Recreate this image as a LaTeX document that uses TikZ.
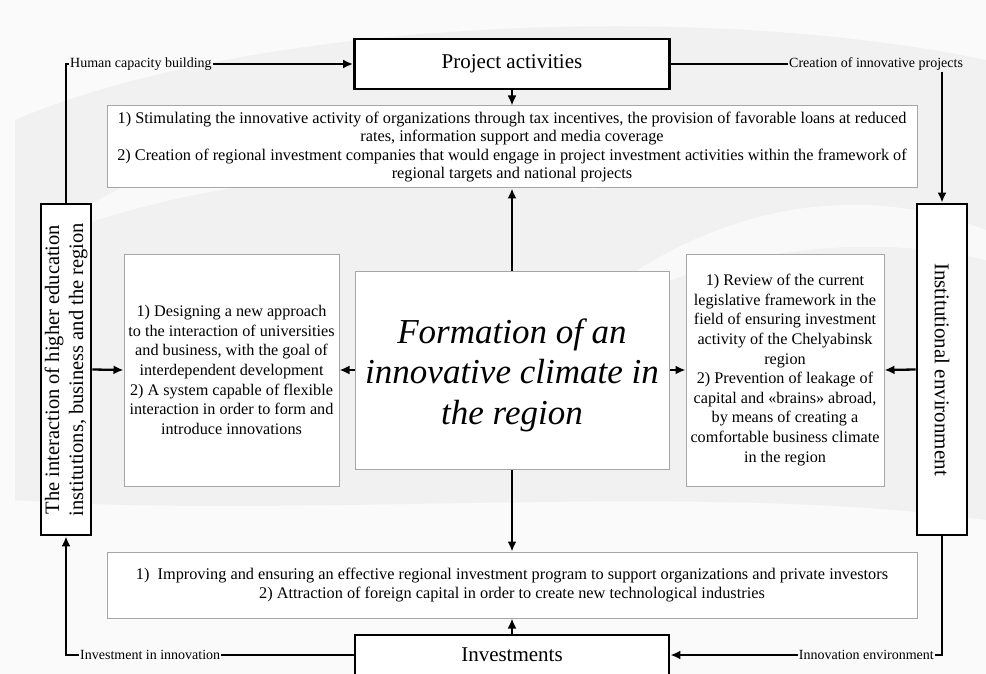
\documentclass[tikz,border=0pt]{standalone}
\usepackage{fontspec}
\setmainfont{Liberation Serif}
\usepackage{tikz}
\usetikzlibrary{arrows.meta}

\tikzset{
    bigbox/.style={draw, line width=2.8pt, fill=white, inner sep=1pt, align=center},
    textbox/.style={draw=gray!70, line width=1pt, fill=white, inner sep=2pt, align=center},
    link/.style={line width=2.3pt, -{Latex[length=10pt,width=9pt]}},
    plainlink/.style={line width=2.3pt},
    tag/.style={inner sep=1pt, font=\fontsize{14}{16}\selectfont},
}

\begin{document}
\begin{tikzpicture}[x=1pt, y=-1pt]

    % backdrop
    \fill[gray!4] (0,0) rectangle (986,674);
    \fill[gray!11] (15,120) .. controls (250,20) and (700,0) .. (986,60) -- (986,520)
        .. controls (700,480) and (300,520) .. (15,500) -- cycle;
    \fill[white, opacity=0.6] (40,240) .. controls (200,110) and (420,120) .. (600,190)
        .. controls (420,160) and (220,170) .. (40,240) -- cycle;
    \fill[white, opacity=0.6] (560,330) .. controls (700,200) and (860,180) .. (986,230)
        -- (986,260) .. controls (860,230) and (700,250) .. (560,330) -- cycle;
    \useasboundingbox (0,0) rectangle (986,674);

    % outer boxes
    \node[bigbox, minimum width=315pt, minimum height=50pt,
        font=\fontsize{21}{24}\selectfont] (proj) at (512,64) {Project activities};
    \node[bigbox, minimum width=314pt, minimum height=40pt,
        font=\fontsize{21}{24}\selectfont] (invest) at (512,655) {Investments};
    \node[bigbox, rotate=90, minimum width=331pt, minimum height=50pt,
        font=\fontsize{20.5}{24}\selectfont] (univ) at (66,369.5)
        {The interaction of higher education\\institutions, business and the region};
    \node[bigbox, rotate=-90, minimum width=331pt, minimum height=50pt,
        font=\fontsize{21}{24}\selectfont] (inst) at (942,369.5) {Institutional environment};

    % inner boxes
    \node[textbox, minimum width=810pt, minimum height=82pt,
        font=\fontsize{16.3}{18.5}\selectfont] (tasks) at (512,147)
        {1) Stimulating the innovative activity of organizations through tax incentives, the provision of favorable loans at reduced\\
         rates, information support and media coverage\\
         2) Creation of regional investment companies that would engage in project investment activities within the framework of\\
         regional targets and national projects};
    \node[textbox, minimum width=810pt, minimum height=66pt,
        font=\fontsize{16.3}{18.5}\selectfont] (invprog) at (512,585)
        {1)\ \ Improving and ensuring an effective regional investment program to support organizations and private investors\\
         2) Attraction of foreign capital in order to create new technological industries};
    \node[textbox, minimum width=215pt, minimum height=232pt,
        font=\fontsize{16.2}{19.6}\selectfont] (unibox) at (231.5,370)
        {1) Designing a new approach\\to the interaction of universities\\and business, with the goal of\\
         interdependent development\\2) A system capable of flexible\\interaction in order to form and\\introduce innovations};
    \node[textbox, minimum width=198pt, minimum height=232pt,
        font=\fontsize{16.2}{19.6}\selectfont] (lawbox) at (785,370)
        {1) Review of the current\\legislative framework in the\\field of ensuring investment\\activity of the Chelyabinsk\\region\\
         2) Prevention of leakage of\\capital and «brains» abroad,\\by means of creating a\\comfortable business climate\\in the region};
    \node[textbox, minimum width=314pt, minimum height=198pt] (core) at (512,370) {};
    \node[align=center, font=\fontsize{35}{40.5}\selectfont\itshape] (coretext) at (512,375)
        {Formation of an\\innovative climate in\\the region};

    % tags on the loop
    \node[tag, anchor=west] (lblhuman) at (69,64) {Human capacity building};
    \node[tag, anchor=west] (lblcreate) at (788,64) {Creation of innovative projects};
    \node[tag, anchor=east] (lblenv) at (935,655) {Innovation environment};
    \node[tag, anchor=west] (lblinvin) at (79,655) {Investment in innovation};

    % arrows
    \draw[link] (proj.south) -- (tasks.north);
    \draw[link] (core.north) -- (tasks.south);
    \draw[link] (core.south) -- (invprog.north);
    \draw[link] (invest.north) -- (invprog.south);
    \draw[link] (core.west) -- (unibox.east);
    \draw[link] (core.east) -- (lawbox.west);
    \draw[link] (univ.south) -- (unibox.west);
    \draw[link] (inst.south) -- (lawbox.east);

    \draw[plainlink] (univ.east) |- (lblhuman.west);
    \draw[link] (lblhuman.east) -- (proj.west);
    \draw[plainlink] (proj.east) -- (lblcreate.west);
    \draw[link] (lblcreate.south -| inst.west) -- (inst.west);
    \draw[plainlink] (inst.east) |- (lblenv.east);
    \draw[link] (lblenv.west) -- (invest.east);
    \draw[plainlink] (invest.west) -- (lblinvin.east);
    \draw[link] (lblinvin.west) -| (univ.west);

\end{tikzpicture}
\end{document}
